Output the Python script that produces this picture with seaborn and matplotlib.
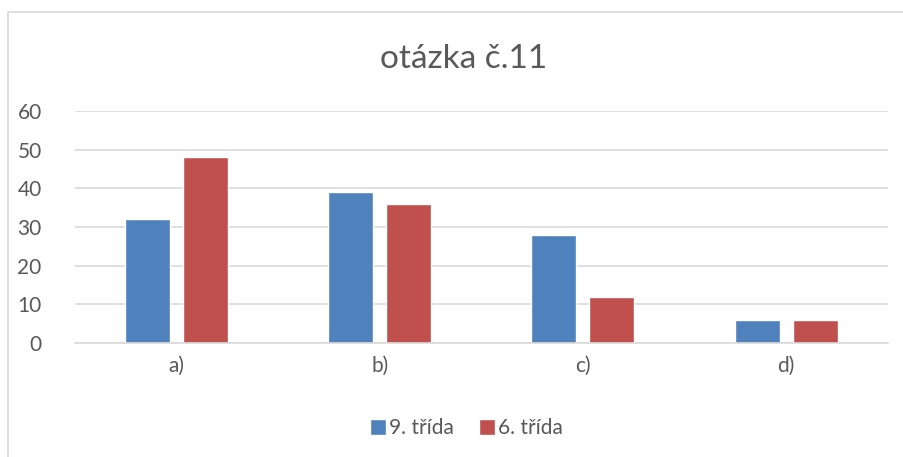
import matplotlib
matplotlib.use("Agg")
import matplotlib.pyplot as plt
import seaborn as sns
import pandas as pd
from matplotlib.patches import Rectangle

categories = ["a)", "b)", "c)", "d)"]
series_names = ["9. třída", "6. třída"]
trida_9 = [32, 39, 28, 6]
trida_6 = [48, 36, 12, 6]
y_ticks = [0, 10, 20, 30, 40, 50, 60]

colors = ["#4F81BD", "#C0504D"]
text_color = "#595959"
grid_color = "#D9D9D9"

df = pd.DataFrame({
    "otazka": categories * 2,
    "trida": [series_names[0]] * len(categories) + [series_names[1]] * len(categories),
    "pocet": trida_9 + trida_6,
})

sns.set_style("white")
plt.rcParams["font.family"] = ["Lato", "DejaVu Sans"]

fig = plt.figure(figsize=(9.04, 4.57), dpi=100)
ax = fig.add_axes([0.083, 0.2495, 0.899, 0.5075])

sns.barplot(data=df, x="otazka", y="pocet", hue="trida", palette=colors,
            width=0.571, gap=0.224, ax=ax, saturation=1, legend=True)

ax.set_ylim(0, 60)
ax.set_yticks(y_ticks)
ax.set_xlim(-0.5, len(categories) - 0.5)
ax.yaxis.grid(True, color=grid_color, linewidth=1.2)
ax.set_axisbelow(True)
for s in ["top", "right", "left"]:
    ax.spines[s].set_visible(False)
ax.spines["bottom"].set_color(grid_color)
ax.spines["bottom"].set_linewidth(1.2)
ax.tick_params(axis="both", length=0, labelsize=15, colors=text_color)
ax.tick_params(axis="y", pad=24)
ax.tick_params(axis="x", pad=9)
ax.set_xlabel("")
ax.set_ylabel("")

fig.text(0.513, 0.87, "otázka č.11", ha="center", va="center",
         fontsize=24, color=text_color)

handles, labels = ax.get_legend_handles_labels()
ax.legend_.remove()
fig.legend(handles, labels, loc="center", bbox_to_anchor=(0.516, 0.063), ncol=2,
           frameon=False, fontsize=15, labelcolor=text_color,
           handlelength=0.75, handleheight=0.75, handletextpad=0.15, columnspacing=1.2)

fig.patches.append(Rectangle((8 / 904, -0.05), 1.0, 1 - 12 / 457 + 0.05,
                             transform=fig.transFigure, fill=False,
                             edgecolor="#D9D9D9", linewidth=1.2))

fig.savefig("out.png", dpi=100)
